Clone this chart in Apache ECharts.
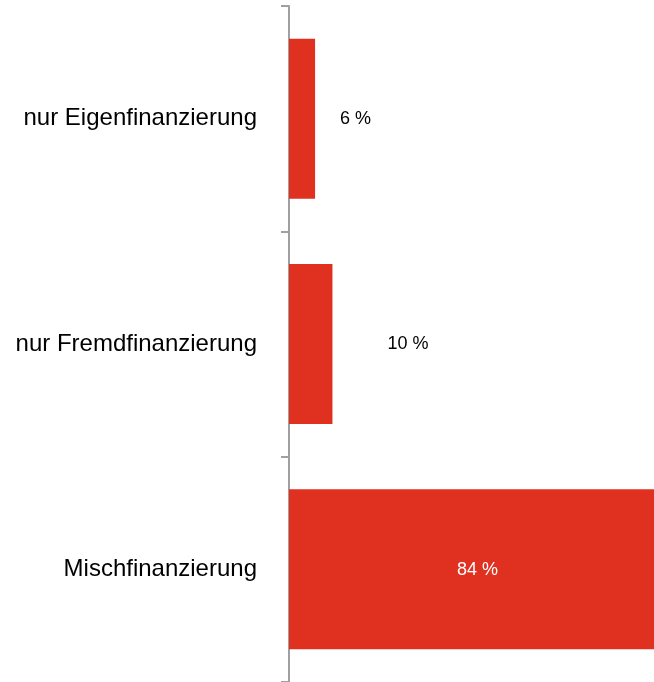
<!DOCTYPE html>
<html>
<head>
<meta charset="utf-8">
<script src="https://cdn.jsdelivr.net/npm/echarts@6/dist/echarts.min.js"></script>
<style>html,body{margin:0;padding:0;background:#fff}#c{width:654px;height:682px}</style>
</head>
<body>
<div id="c"></div>
<script>
var categories = ['nur Eigenfinanzierung', 'nur Fremdfinanzierung', 'Mischfinanzierung'];
var values = [6, 10, 84];

var labelStyles = [
  { position: 'right', distance: 25, color: '#000' },
  { position: 'right', distance: 55, color: '#000' },
  { position: 'inside', offset: [6, 1], color: '#fff' }
];

var chart = echarts.init(document.getElementById('c'));
chart.setOption({
  animation: false,
  grid: { left: 289, right: 0, top: 6, bottom: -2, containLabel: false },
  xAxis: {
    type: 'value', min: 0, max: 84, show: false
  },
  yAxis: {
    type: 'category', data: categories, inverse: true,
    axisLine: { show: true, lineStyle: { color: '#a0a0a0', width: 2 } },
    axisTick: { show: true, length: 8, lineStyle: { color: '#a0a0a0', width: 2 } },
    axisLabel: { margin: 32, color: '#000', fontSize: 24, fontFamily: 'Liberation Sans, Arial, sans-serif' }
  },
  series: [{
    type: 'bar',
    barWidth: 160,
    itemStyle: { color: '#e03120' },
    label: {
      show: true, fontSize: 18, fontFamily: 'Liberation Sans, Arial, sans-serif',
      formatter: function (p) { return p.value + ' %'; }
    },
    data: values.map(function (v, i) { return { value: v, label: labelStyles[i] }; })
  }]
});
</script>
</body>
</html>
